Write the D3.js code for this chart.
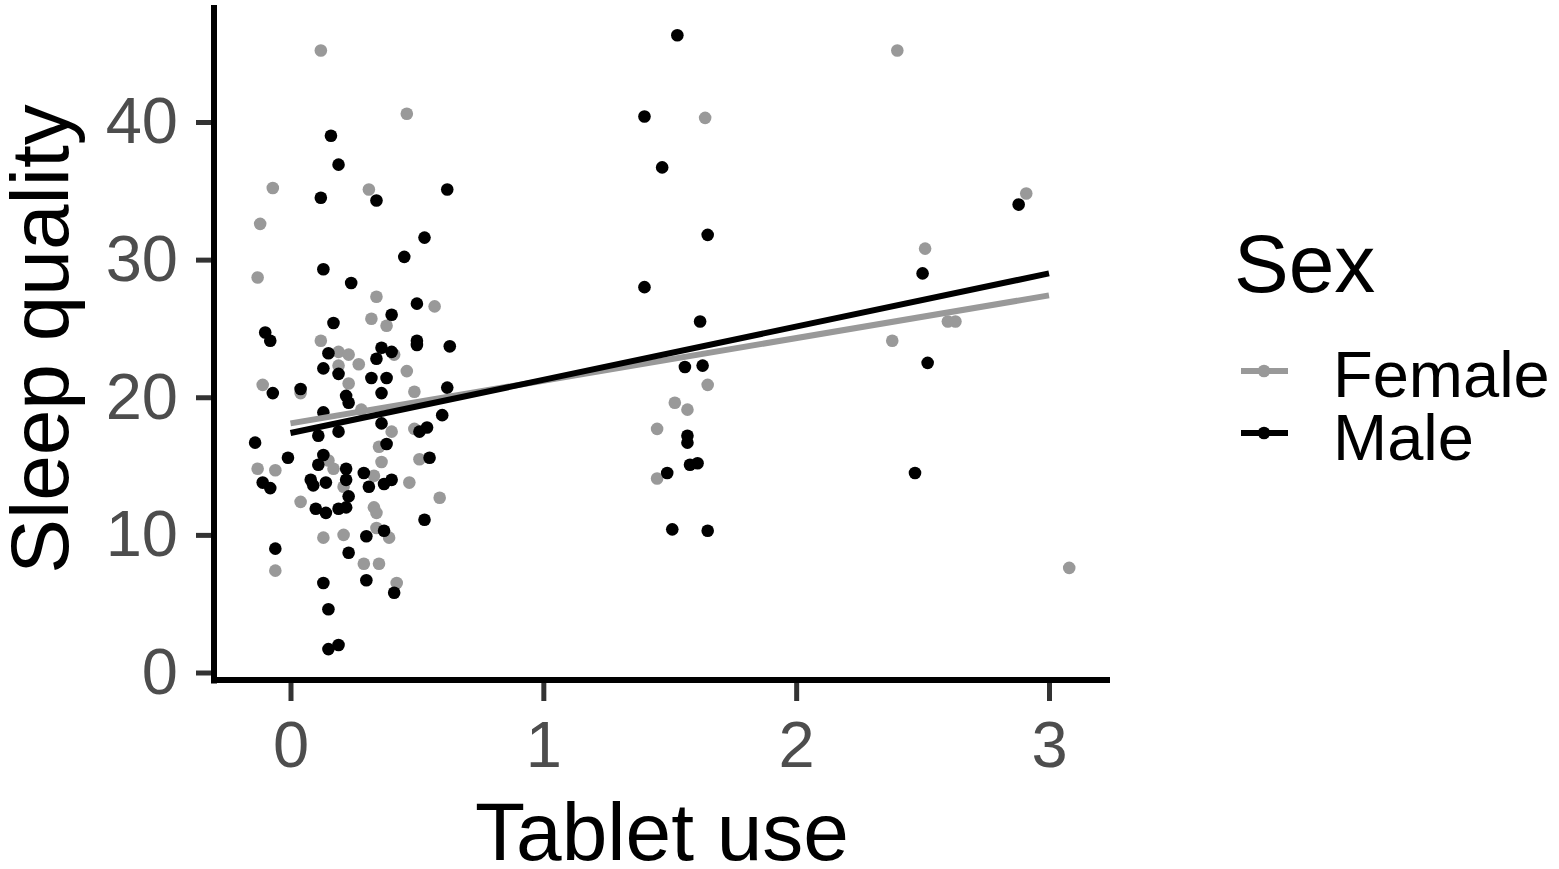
<!DOCTYPE html>
<html>
<head>
<meta charset="utf-8">
<script src="https://cdn.jsdelivr.net/npm/d3@7"></script>
<style>
  html, body { margin: 0; padding: 0; background: #fff; }
  svg { display: block; font-family: "Liberation Sans", Arial, sans-serif; }
</style>
</head>
<body>
<svg id="chart" width="1559" height="869"></svg>
<script>
// ---- Data ----
const sexes = ["Female", "Male"];
const sexColors = ["#999999", "#000000"];

const femaleX = [0.12,0.46,-0.07,0.31,-0.12,-0.13,0.34,0.57,0.32,0.38,0.12,0.41,0.19,0.23,0.27,0.19,0.46,0.23,-0.11,0.04,0.49,0.28,0.40,0.49,0.35,0.15,0.36,0.51,-0.13,-0.06,0.17,0.33,0.21,0.47,0.04,0.59,0.33,0.34,0.34,0.39,0.13,0.21,0.29,0.35,-0.06,0.42,
  1.64,1.65,1.52,1.57,1.45,1.45,
  2.40,2.91,2.51,2.60,2.63,2.38,3.08];
const femaleY = [45.2,40.6,35.2,35.1,32.6,28.7,27.3,26.6,25.7,25.2,24.1,23.1,23.3,23.1,22.4,22.3,21.9,21.0,20.9,20.3,20.4,19.1,17.5,17.7,16.4,15.4,15.3,15.5,14.8,14.7,14.8,14.3,13.5,13.8,12.4,12.7,12.0,11.6,10.5,9.8,9.8,10.0,7.9,7.9,7.4,6.5,
  40.3,20.9,19.6,19.1,17.7,14.1,
  45.2,34.8,30.8,25.5,25.5,24.1,7.6];

const maleX = [0.16,0.19,0.12,0.34,0.62,0.53,0.45,0.13,0.24,0.50,0.40,0.17,-0.10,-0.08,0.50,0.50,0.63,0.36,0.40,0.15,0.34,0.13,0.19,0.32,0.38,0.62,-0.07,0.04,0.22,0.36,0.23,0.13,0.36,0.60,0.51,0.54,0.11,0.19,-0.14,0.38,-0.01,0.13,0.11,0.55,0.22,0.29,0.22,-0.11,-0.08,0.08,0.14,0.09,0.31,0.37,0.40,0.23,0.10,0.14,0.19,0.22,0.53,0.37,0.30,-0.06,0.23,0.13,0.30,0.41,0.15,0.19,0.15,
  1.53,1.40,1.47,1.65,1.40,1.62,1.56,1.63,1.57,1.57,1.58,1.61,1.49,1.51,1.65,
  2.88,2.50,2.52,2.47];
const maleY = [39.0,36.9,34.5,34.3,35.1,31.6,30.2,29.3,28.3,26.8,26.0,25.4,24.7,24.1,24.1,23.8,23.7,23.6,23.3,23.2,22.8,22.1,21.7,21.4,21.4,20.7,20.3,20.6,20.1,20.3,19.6,18.9,18.1,18.7,17.5,17.8,17.2,17.5,16.7,16.6,15.6,15.8,15.1,15.6,14.8,14.5,14.0,13.8,13.4,14.0,13.8,13.6,13.5,13.7,14.0,12.8,11.9,11.6,11.9,12.0,11.1,10.3,9.9,9.0,8.7,6.5,6.7,5.8,4.6,2.0,1.7,
  46.3,40.4,36.7,31.8,28.0,25.5,22.2,22.3,17.2,16.7,15.1,15.2,14.5,10.4,10.3,
  34.0,29.0,22.5,14.5];

// Linear fit endpoints
const fitX = [0, 3];
const femaleFit = [18.1, 27.4];
const maleFit = [17.4, 29.0];

const xTicks = [0, 1, 2, 3];
const yTicks = [0, 10, 20, 30, 40];
const xTitle = "Tablet use";
const yTitle = "Sleep quality";
const legendTitle = "Sex";

// ---- Layout ----
const svg = d3.select("#chart");
const panel = { left: 214, right: 1110, top: 5, bottom: 681 };

const x = d3.scaleLinear().domain([0, 3]).range([290.5, 1049]);
const y = d3.scaleLinear().domain([0, 40]).range([672.5, 122]);

svg.append("rect").attr("width", 1559).attr("height", 869).attr("fill", "#fff");

const groups = [
  { name: sexes[0], color: sexColors[0], xs: femaleX, ys: femaleY, fit: femaleFit },
  { name: sexes[1], color: sexColors[1], xs: maleX, ys: maleY, fit: maleFit }
];

// points
groups.forEach(g => {
  svg.append("g").selectAll("circle")
    .data(g.xs.map((v, i) => [v, g.ys[i]]))
    .join("circle")
    .attr("cx", d => x(d[0]))
    .attr("cy", d => y(d[1]))
    .attr("r", 6.3)
    .attr("fill", g.color);
});

// fit lines
const line = d3.line().x(d => x(d[0])).y(d => y(d[1]));
groups.forEach(g => {
  svg.append("path")
    .datum(fitX.map((v, i) => [v, g.fit[i]]))
    .attr("d", line)
    .attr("fill", "none")
    .attr("stroke", g.color)
    .attr("stroke-width", 6);
});

// axes
const yAxis = d3.axisLeft(y).tickValues(yTicks).tickSize(17).tickPadding(18).tickSizeOuter(0)
  .tickFormat(d3.format("d"));
const gy = svg.append("g").attr("transform", `translate(${panel.left - 1},0)`).call(yAxis);
gy.select(".domain").remove();
gy.selectAll(".tick line").attr("stroke", "#333333").attr("stroke-width", 5);
gy.selectAll(".tick text").attr("fill", "#4d4d4d").attr("font-size", 65)
  .attr("font-family", "Liberation Sans, Arial, sans-serif");

const xAxis = d3.axisBottom(x).tickValues(xTicks).tickSize(18).tickPadding(20).tickSizeOuter(0)
  .tickFormat(d3.format("d"));
const gx = svg.append("g").attr("transform", `translate(0,${panel.bottom + 2})`).call(xAxis);
gx.select(".domain").remove();
gx.selectAll(".tick line").attr("stroke", "#333333").attr("stroke-width", 5);
gx.selectAll(".tick text").attr("fill", "#4d4d4d").attr("font-size", 65)
  .attr("font-family", "Liberation Sans, Arial, sans-serif");

// axis lines
svg.append("line").attr("x1", panel.left).attr("x2", panel.left)
  .attr("y1", panel.top).attr("y2", panel.bottom + 2.5)
  .attr("stroke", "#000").attr("stroke-width", 6);
svg.append("line").attr("x1", panel.left - 3).attr("x2", panel.right)
  .attr("y1", panel.bottom - 1).attr("y2", panel.bottom - 1)
  .attr("stroke", "#000").attr("stroke-width", 6);

// titles
svg.append("text").attr("x", (panel.left + panel.right) / 2).attr("y", 860)
  .attr("text-anchor", "middle").attr("font-size", 82).attr("fill", "#000").text(xTitle);
svg.append("text").attr("transform", `translate(68,${(panel.top + panel.bottom) / 2 - 4}) rotate(-90)`)
  .attr("text-anchor", "middle").attr("font-size", 82).attr("fill", "#000").text(yTitle);

// legend
svg.append("text").attr("x", 1234).attr("y", 292).attr("font-size", 82).attr("fill", "#000").text(legendTitle);
const legendY = [371, 433];
const legendBase = [397, 460];
groups.forEach((g, i) => {
  svg.append("line").attr("x1", 1241).attr("x2", 1288)
    .attr("y1", legendY[i]).attr("y2", legendY[i])
    .attr("stroke", g.color).attr("stroke-width", 6);
  svg.append("circle").attr("cx", 1264).attr("cy", legendY[i]).attr("r", 6.3).attr("fill", g.color);
  svg.append("text").attr("x", 1333).attr("y", legendBase[i]).attr("font-size", 65)
    .attr("fill", "#000").text(g.name);
});
</script>
</body>
</html>
